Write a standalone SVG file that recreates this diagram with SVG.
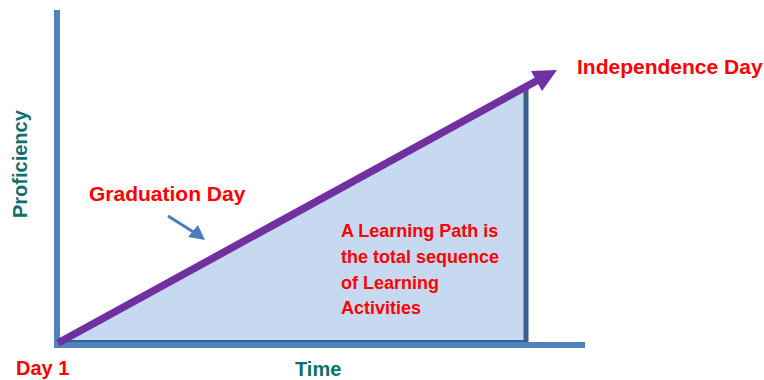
<svg xmlns="http://www.w3.org/2000/svg" width="764" height="380" viewBox="0 0 764 380">
<style>
.red{fill:#FF0000;font-family:"Liberation Sans",Arial,sans-serif;font-weight:bold}
.teal{fill:#0F6F6B;font-family:"Liberation Sans",Arial,sans-serif;font-weight:bold;font-size:20px}
.axis{stroke:#4F81BD;stroke-width:6;fill:none}
</style>
<rect width="764" height="380" fill="#FFFFFF"/>
<g id="area">
<polygon points="58,342 526,86 526,342" fill="#C6D9F0"/>
<line x1="58" y1="341" x2="526" y2="341" stroke="#3B5F8C" stroke-width="2"/>
<line x1="526" y1="86" x2="526" y2="343" stroke="#3B5F8C" stroke-width="5"/>
</g>
<g id="axes">
<line class="axis" x1="57" y1="10" x2="57" y2="348"/>
<line class="axis" x1="54" y1="345" x2="585" y2="345"/>
</g>
<g id="connectors">
<line x1="58" y1="343" x2="540" y2="79" stroke="#7030A0" stroke-width="7.5"/>
<polygon points="557,70 531,71 542,91" fill="#7030A0"/>
<line x1="168" y1="216" x2="195" y2="233" stroke="#4A7EBB" stroke-width="3"/>
<polygon points="205,240 188,237 198,225" fill="#4A7EBB"/>
</g>
<g id="labels">
<text class="red" x="577" y="74" font-size="21">Independence Day</text>
<text class="red" x="89" y="201" font-size="21">Graduation Day</text>
<text class="red" x="16" y="375" font-size="20">Day 1</text>
<text class="red" font-size="18" x="341">
<tspan x="341" y="237">A Learning Path is</tspan>
<tspan x="341" y="263">the total sequence</tspan>
<tspan x="341" y="289">of Learning</tspan>
<tspan x="341" y="314">Activities</tspan>
</text>
<text class="teal" x="295" y="376">Time</text>
<text class="teal" transform="translate(27,218) rotate(-90)" x="0" y="0">Proficiency</text>
</g>
</svg>
